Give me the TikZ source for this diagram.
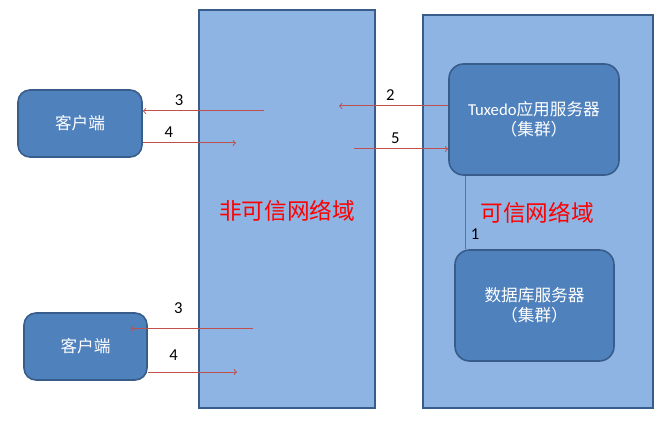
\documentclass[tikz,border=0pt]{standalone}
\usepackage{fontspec}
\setmainfont{Carlito}
\newfontfamily\cjk{Noto Sans CJK SC}
\definecolor{zoneblue}{RGB}{142,180,227}
\definecolor{boxblue}{RGB}{79,129,189}
\definecolor{edgeblue}{RGB}{56,93,138}
\definecolor{msgred}{RGB}{192,80,77}

\begin{document}
\begin{tikzpicture}[x=0.75pt,y=-0.75pt,
        zone/.style={draw=edgeblue,fill=zoneblue,line width=1.5pt,inner sep=0pt},
        server/.style={draw=edgeblue,fill=boxblue,line width=1.2pt,rounded corners=11pt,
            text=white,align=center,font=\cjk\fontsize{12.5}{15}\selectfont},
        msg/.style={draw=msgred,line width=0.75pt,->},
        num/.style={font=\fontsize{12.5}{13}\selectfont,inner sep=1pt},
        zonename/.style={text=red,font=\cjk\fontsize{17}{20}\selectfont}]
        \useasboundingbox (0,0) rectangle (657,438);
        % zones
        \draw (287,209) node[zone,minimum width=132pt,minimum height=298.5pt] (U) {};
        \draw (538,211.5) node[zone,minimum width=172.5pt,minimum height=294.75pt] (T) {};
        \draw (287,211) node[zonename] (Uname) {非可信网络域};
        \draw (537,213) node[zonename] (Tname) {可信网络域};
        % boxes
        \draw (80,123.5) node[server,rounded corners=9pt,minimum width=93pt,minimum height=50.25pt] (C1) {客户端};
        \draw (85.5,346.5) node[server,rounded corners=9pt,minimum width=92.25pt,minimum height=50.25pt] (C2) {客户端};
        \draw (534,119.5) node[server,minimum width=127.5pt,minimum height=83.25pt] (Tux) {{\rmfamily Tuxedo}应用服务器\\（集群）};
        \draw (534.5,305.5) node[server,minimum width=119.25pt,minimum height=83.25pt] (DB) {数据库服务器\\（集群）};
        % message ends
        \coordinate (t3) at (264,111);
        \coordinate (t4) at (236,143);
        \coordinate (m2) at (339,106);
        \coordinate (m5) at (354,149);
        \coordinate (l1) at (465,0);
        \coordinate (b3) at (253,329);
        \coordinate (b4) at (237,372);
        % messages
        \draw[msg] (t3) -- (C1.east |- t3) node[num,above=3pt,pos=.7] {3};
        \draw[msg] (C1.east |- t4) -- (t4) node[num,above=3pt,pos=.28] {4};
        \draw[msg] (Tux.west |- m2) -- (m2) node[num,above=3pt,pos=.53] {2};
        \draw[msg] (m5) -- (Tux.west |- m5) node[num,above=3pt,pos=.44] {5};
        \draw[msg,-] (Tux.south -| l1) -- (DB.north -| l1) node[num,right=3pt,pos=.8] {1};
        \draw[msg] (b3) -- ([xshift=-13pt]C2.east |- b3) node[num,above=10pt,pos=.61] {3};
        \draw[msg] (C2.east |- b4) -- (b4) node[num,above=7pt,pos=.29] {4};
        \end{tikzpicture}
\end{document}
